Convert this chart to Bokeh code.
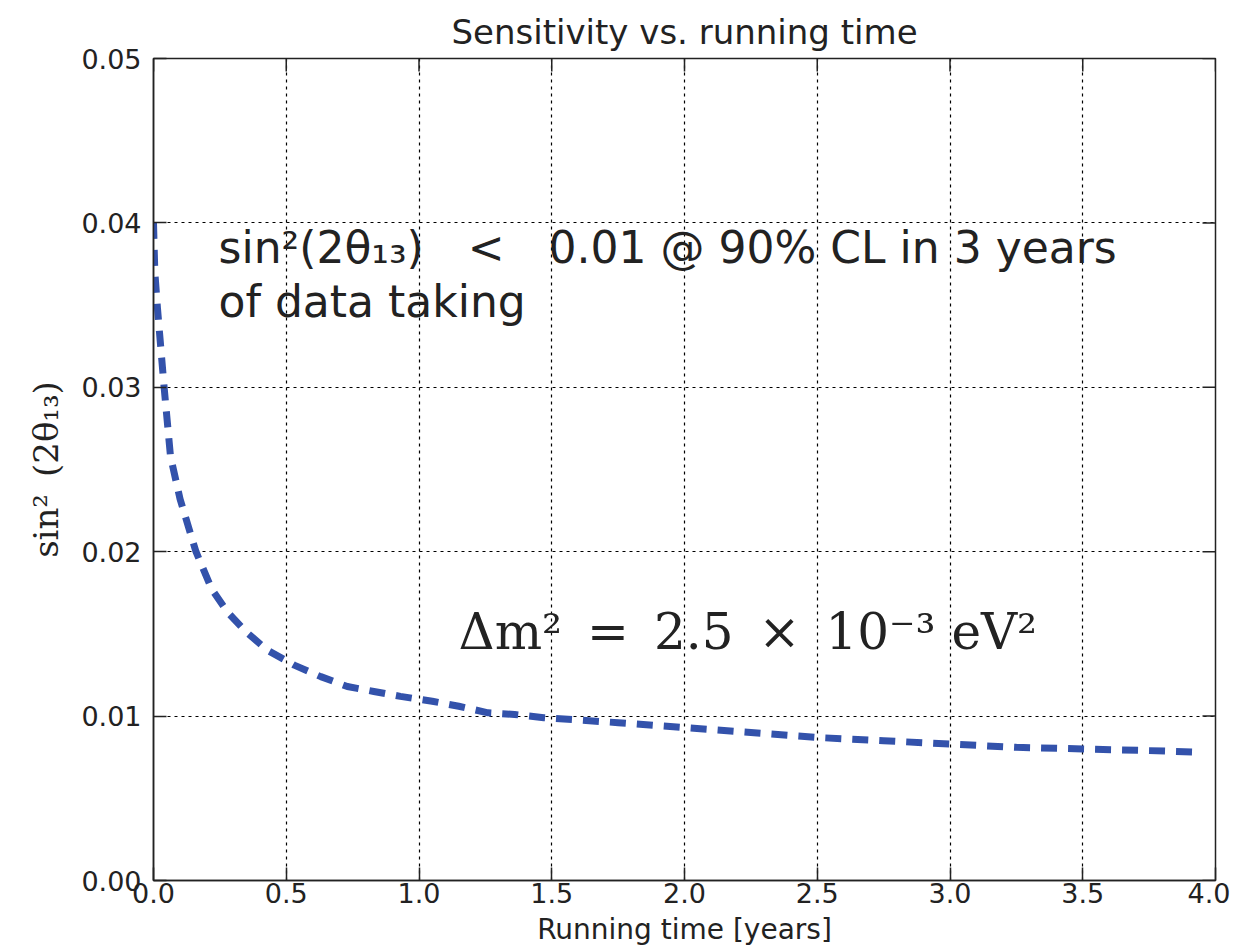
import math
from bokeh.plotting import figure
from bokeh.models import Range1d, FixedTicker, Label
from bokeh.embed import file_html
from bokeh.resources import INLINE

# ---- data ----
running_time = [0.0, 0.005, 0.015, 0.04, 0.064, 0.1, 0.16, 0.22, 0.28, 0.35, 0.43, 0.53,
                0.63, 0.73, 0.83, 0.93, 1.05, 1.15, 1.26, 1.36, 1.47, 1.75, 2.0, 2.25,
                2.5, 2.75, 3.0, 3.25, 3.5, 3.75, 3.95]
sensitivity = [0.040, 0.037, 0.0348, 0.030, 0.0258, 0.0232, 0.0200, 0.0177, 0.0163, 0.0151,
               0.0140, 0.0131, 0.0124, 0.0118, 0.0115, 0.0112, 0.0109, 0.0106, 0.0102,
               0.0101, 0.0099, 0.0096, 0.0093, 0.0090, 0.0087, 0.0085, 0.0083, 0.0081,
               0.0080, 0.0079, 0.0078]
x_ticks = [0.0, 0.5, 1.0, 1.5, 2.0, 2.5, 3.0, 3.5, 4.0]
x_tick_labels = ["0.0", "0.5", "1.0", "1.5", "2.0", "2.5", "3.0", "3.5", "4.0"]
y_ticks = [0.0, 0.01, 0.02, 0.03, 0.04, 0.05]
y_tick_labels = ["0.00", "0.01", "0.02", "0.03", "0.04", "0.05"]

title_text = "Sensitivity vs. running time"
x_label = "Running time [years]"
y_label = "sin\u00b2\u2002(2\u03b8\u2081\u2083)"
note1 = "sin\u00b2(2\u03b8\u2081\u2083)\u2003<\u20030.01 @ 90% CL in 3 years"
note2 = "of data taking"
note3 = "\u0394m\u00b2\u2002=\u20022.5\u2002\u00d7\u200210\u207b\u00b3 eV\u00b2"

SANS = "DejaVu Sans"
SERIF = "DejaVu Serif"
INK = "#222222"

p = figure(width=1230, height=950, output_backend="svg", toolbar_location=None,
           x_range=Range1d(0, 4), y_range=Range1d(0, 0.05),
           min_border_left=153, min_border_top=58, min_border_right=15,
           min_border_bottom=70, title=title_text)

p.title.align = "center"
p.title.text_font = SANS
p.title.text_font_size = "34px"
p.title.text_font_style = "normal"
p.title.text_color = INK
p.title.standoff = 14

p.outline_line_color = INK
p.outline_line_width = 1.5

# grid
for g in (p.xgrid, p.ygrid):
    g.grid_line_color = "black"
    g.grid_line_dash = "3 4"
    g.grid_line_width = 1.2
p.xgrid.ticker = FixedTicker(ticks=x_ticks)
p.ygrid.ticker = FixedTicker(ticks=y_ticks)

def style_axis(ax, ticks, labels):
    ax.ticker = FixedTicker(ticks=ticks)
    ax.major_label_overrides = {t: l for t, l in zip(ticks, labels)}
    ax.major_tick_in = 13
    ax.major_tick_out = 0
    ax.minor_tick_in = 0
    ax.minor_tick_out = 0
    ax.major_tick_line_color = INK
    ax.major_tick_line_width = 1.5
    ax.axis_line_color = INK
    ax.axis_line_width = 1.5
    ax.major_label_text_font = SANS
    ax.major_label_text_color = INK
    ax.major_label_text_font_size = "27px"

xa = p.xaxis[0]
ya = p.yaxis[0]
style_axis(xa, x_ticks, x_tick_labels)
style_axis(ya, y_ticks, y_tick_labels)
xa.major_label_standoff = 2
ya.major_label_standoff = 12

xa.axis_label = x_label
xa.axis_label_text_font = SANS
xa.axis_label_text_font_size = "28px"
xa.axis_label_text_font_style = "normal"
xa.axis_label_text_color = INK
xa.axis_label_standoff = 7

ya.axis_label = y_label
ya.axis_label_text_font = SERIF
ya.axis_label_text_font_size = "34px"
ya.axis_label_text_font_style = "normal"
ya.axis_label_text_color = INK
ya.axis_label_standoff = 12

# inward tick marks on the top and right edges of the frame
x_top = [x_ticks[-1]] * len(y_ticks)
y_top = [y_ticks[-1]] * len(x_ticks)
p.scatter(x_ticks, y_top, marker="dash", size=26, angle=math.pi / 2,
          line_color=INK, line_width=1.5)
p.scatter(x_top, y_ticks, marker="dash", size=26, angle=0,
          line_color=INK, line_width=1.5)

# curve
p.line(running_time, sensitivity, line_color="#3352ab", line_width=7,
       line_dash="16 11")

# annotations
p.add_layout(Label(x=0.245, y=0.0385, text=note1, text_font=SANS,
                   text_font_size="44px", text_color=INK,
                   text_baseline="alphabetic"))
p.add_layout(Label(x=0.245, y=0.0352, text=note2, text_font=SANS,
                   text_font_size="44px", text_color=INK,
                   text_baseline="alphabetic"))
p.add_layout(Label(x=1.149, y=0.0151, text=note3, text_font=SERIF,
                   text_font_size="50px", text_color=INK,
                   text_baseline="alphabetic"))

open("out.html", "w").write(file_html(p, INLINE))
